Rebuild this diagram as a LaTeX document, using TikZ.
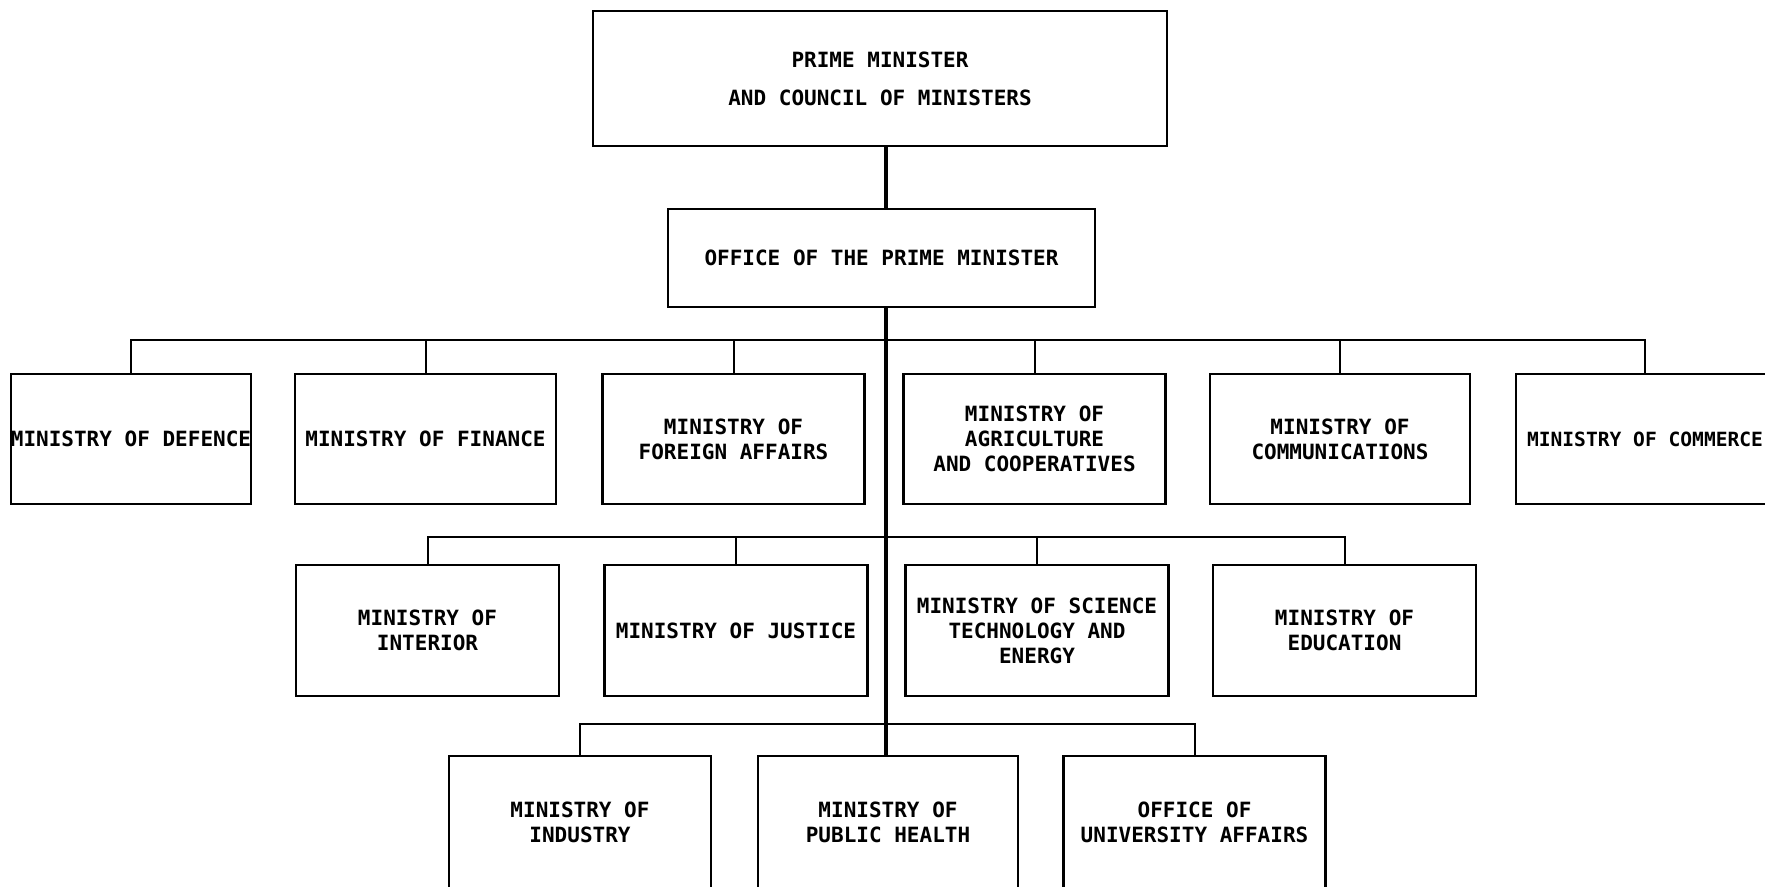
\documentclass[tikz,border=0pt]{standalone}
\usepackage{fontspec}
\setmonofont{DejaVu Sans Mono}
\begin{document}
\begin{tikzpicture}[x=0.5pt,y=-0.5pt,
  box/.style={draw,line width=1.3pt,inner sep=0pt,align=center,
    font=\ttfamily\bfseries\fontsize{10.5}{12.5}\selectfont},
  rowone/.style={box,minimum width=131pt,minimum height=65pt},
  rowtwo/.style={box,minimum width=131.5pt,minimum height=65.5pt},
  rowthree/.style={box,minimum width=131pt,minimum height=66pt},
  link/.style={line width=1pt},
  spineline/.style={line width=1.6pt}]
\useasboundingbox (0,0) rectangle (1765,887);
\clip (0,0) rectangle (1765,887);
% top
\node[box,minimum width=287pt,minimum height=67.5pt] (pm) at (880,78.5)
  {PRIME MINISTER\\[6.5pt]AND COUNCIL OF MINISTERS};
\node[box,minimum width=213.5pt,minimum height=49pt] (office) at (881.5,258)
  {OFFICE OF THE PRIME MINISTER};
% row 1
\node[rowone,minimum width=118pt] (def) at (131,439) {MINISTRY OF DEFENCE};
\node[rowone,minimum width=130.5pt] (fin) at (425.5,439) {MINISTRY OF FINANCE};
\node[rowone] (for) at (733.5,439) {MINISTRY OF\\FOREIGN AFFAIRS};
\node[rowone] (agr) at (1034.5,439) {MINISTRY OF\\AGRICULTURE\\AND COOPERATIVES};
\node[rowone,minimum width=130pt] (cmm) at (1340,439) {MINISTRY OF\\COMMUNICATIONS};
\node[rowone,minimum width=129pt,font=\ttfamily\bfseries\fontsize{9.8}{12}\selectfont] (com) at (1645,439) {MINISTRY OF COMMERCE};
% row 2
\node[rowtwo] (int) at (427.5,630.5) {MINISTRY OF\\INTERIOR};
\node[rowtwo] (jus) at (736,630.5) {MINISTRY OF JUSTICE};
\node[rowtwo] (sci) at (1037,630.5) {MINISTRY OF SCIENCE\\TECHNOLOGY AND\\ENERGY};
\node[rowtwo] (edu) at (1344.5,630.5) {MINISTRY OF\\EDUCATION};
% row 3
\node[rowthree] (ind) at (580,822) {MINISTRY OF\\INDUSTRY};
\node[rowthree,minimum width=130pt] (hea) at (888,822) {MINISTRY OF\\PUBLIC HEALTH};
\node[rowthree] (uni) at (1194.5,822) {OFFICE OF\\UNIVERSITY AFFAIRS};
% spine
\coordinate (sp) at (886,0);
\draw[spineline] (pm.south -| sp) -- (office.north -| sp);
\draw[spineline] (office.south -| sp) -- (hea.north -| sp);
% buses
\coordinate (b1) at (0,340);
\coordinate (b2) at (0,537);
\coordinate (b3) at (0,724);
\draw[link] (def.north) -- (def.north |- b1) -- (com.north |- b1) -- (com.north);
\foreach \n in {fin,for,agr,cmm} \draw[link] (\n.north) -- (\n.north |- b1);
\draw[link] (int.north) -- (int.north |- b2) -- (edu.north |- b2) -- (edu.north);
\foreach \n in {jus,sci} \draw[link] (\n.north) -- (\n.north |- b2);
\draw[link] (ind.north) -- (ind.north |- b3) -- (uni.north |- b3) -- (uni.north);
\end{tikzpicture}
\end{document}
